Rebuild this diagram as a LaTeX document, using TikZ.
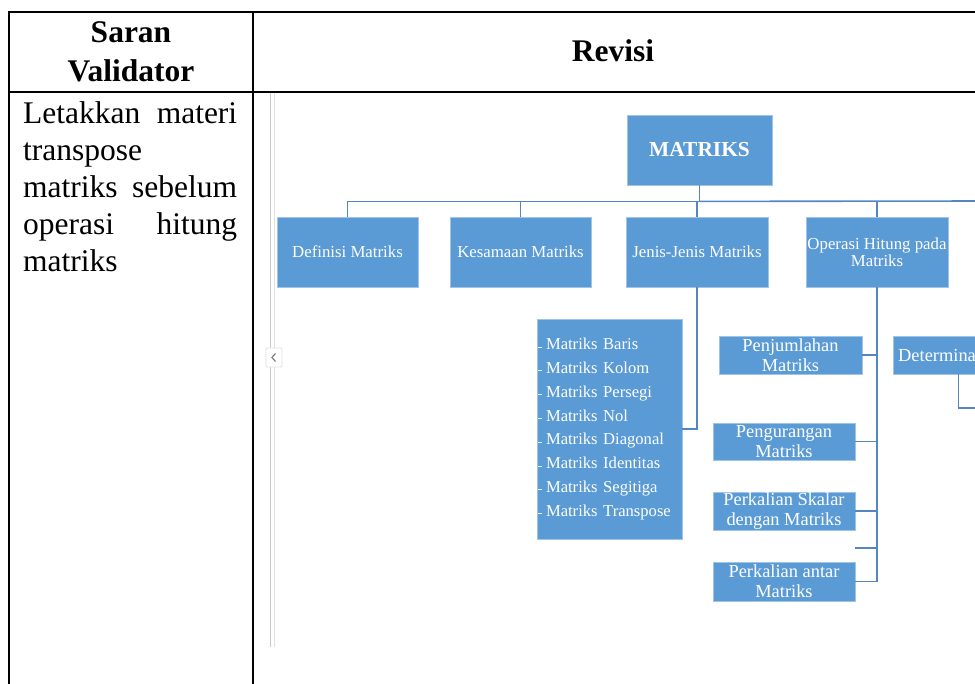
\documentclass[tikz,border=0pt]{standalone}
\usepackage{fontspec}
\setmainfont{Liberation Serif}[Ligatures=CommonOff]
\usetikzlibrary{calc,positioning}

\definecolor{smartblue}{RGB}{91,155,213}
\definecolor{smartedge}{RGB}{160,195,232}
\definecolor{linkblue}{RGB}{84,134,194}
\definecolor{barline}{RGB}{200,200,200}
\definecolor{barlight}{RGB}{225,225,225}

\tikzset{
  smartbox/.style={fill=smartblue,draw=smartedge,line width=.8pt,text=white,align=center,inner sep=0pt},
  topbox/.style={smartbox,minimum width=145pt,minimum height=70pt,font=\fontsize{21.4}{24}\selectfont\bfseries},
  mainbox/.style={smartbox,minimum width=142pt,minimum height=70pt,font=\fontsize{16.8}{17}\selectfont},
  subbox/.style={smartbox,minimum width=142pt,minimum height=38pt,font=\fontsize{18.4}{20}\selectfont},
  link/.style={draw=linkblue,line width=1.6pt},
  rule/.style={line width=2.4pt},
  cell/.style={inner sep=0pt,font=\fontsize{31.5}{37}\selectfont},
}

\begin{document}
\begin{tikzpicture}[x=1pt,y=-1pt]

\useasboundingbox (0,0) rectangle (975,684);
\clip (0,0) rectangle (975,684);

%table
\draw[rule] (8,12) -- (980,12);
\draw[rule] (8,92) -- (980,92);
\draw[rule] (9,12) -- (9,690);
\draw[rule] (253,12) -- (253,690);

\node[cell,align=center,font=\fontsize{31.5}{39}\selectfont\bfseries] (saran) at (131,51.5) {Saran\\Validator};
\node[cell,font=\fontsize{31.5}{39}\selectfont\bfseries] (revisi) at (613,51) {Revisi};
\node[cell,align=left,anchor=north west] (catatan) at (23,101.5)
  {\hbox to 214pt{Letakkan\hfil materi}\\transpose\\\hbox to 214pt{matriks\hfil sebelum}\\\hbox to 214pt{operasi\hfil hitung}\\matriks};

%scroll bar
\draw[barline,line width=1.3pt] (270.5,93) -- (270.5,348) (270.5,367) -- (270.5,647);
\draw[barlight,line width=1.3pt] (274.5,93) -- (274.5,348) (274.5,367) -- (274.5,647);
\draw[barlight,line width=.8pt,rounded corners=1pt,fill=white] (266,348) rectangle (282,367);
\draw[gray,line width=1.2pt] (275.5,353.5) -- (272,357.5) -- (275.5,361.5);

%diagram
\node[topbox] (matriks) at (699.5,150) {MATRIKS};
\node[mainbox,minimum width=141pt] (definisi) at (347.5,252) {Definisi Matriks};
\node[mainbox,minimum width=141pt] (kesamaan) at (520.5,252) {Kesamaan Matriks};
\node[mainbox] (jenis) at (697,252) {Jenis-Jenis Matriks};
\node[mainbox] (operasi) at (877,252) {Operasi Hitung pada\\Matriks};

\node[smartbox,align=left,text width=127pt,inner xsep=9pt,minimum height=220pt,
  font=\fontsize{16.6}{23.8}\selectfont] (daftar) at (609.5,429)
  {Matriks Baris\\Matriks Kolom\\Matriks Persegi\\Matriks Nol\\Matriks Diagonal\\Matriks Identitas\\Matriks Segitiga\\Matriks Transpose};
\foreach \k in {0,...,7}
  \draw[white!85!smartblue,line width=.9pt] (537.5,347+\k*23.8) -- (541.5,347+\k*23.8);

\node[subbox,minimum width=143pt] (jumlah) at (790.5,355) {Penjumlahan\\Matriks};
\node[subbox,minimum height=37pt] (kurang) at (784,441.5) {Pengurangan\\Matriks};
\node[subbox] (skalar) at (784,511) {Perkalian Skalar\\dengan Matriks};
\node[subbox,minimum height=39pt] (antar) at (784,581.5) {Perkalian antar\\Matriks};
\node[subbox,minimum width=142pt,anchor=west] (determinan) at (893,355) {};
\node[anchor=west,inner sep=0pt,text=white,font=\fontsize{18.4}{20}\selectfont] (detlabel) at (898,355) {Determinan};

%connectors
\coordinate (busend) at (990,201);
\coordinate (stub) at (855,548);
\coordinate (detend) at (990,408);
\draw[link] (matriks.south) -- ++(0,16) coordinate (bus);
\foreach \n in {definisi,kesamaan,jenis,operasi}
  \draw[link] (bus) -| (\n.north);
\draw[link] (bus) -- (busend);
\draw[link] (jenis.south) |- (daftar.east);
\foreach \n in {jumlah,kurang,skalar,antar}
  \draw[link] (operasi.south) |- (\n.east);
\draw[link] (operasi.south) |- (stub);
\draw[link] ([xshift=-6pt]determinan.south) |- (detend);

\end{tikzpicture}
\end{document}
